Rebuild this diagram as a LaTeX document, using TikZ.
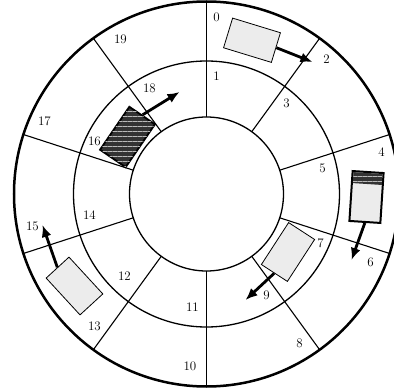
\documentclass[tikz,border=0pt]{standalone}
\usetikzlibrary{arrows.meta,patterns.meta}
\begin{document}
\begin{tikzpicture}[x=1pt,y=1pt,
  ring/.style={circle, draw, line width=1.3pt, inner sep=0pt, outer sep=0pt},
  spoke/.style={line width=1.1pt},
  lab/.style={font=\fontsize{13}{15}\selectfont, inner sep=0pt},
  veh/.style={draw, line width=0.8pt, fill=gray!15, minimum width=50pt, minimum height=31pt, inner sep=0pt},
  stripes/.style={pattern={Lines[angle=0,distance=5pt,line width=0.6pt]}, pattern color=gray!55},
  arr/.style={line width=2.8pt, -{Latex[length=12pt,width=10pt]}}]
\useasboundingbox (-206.5,-197) rectangle (187.5,194);
\clip (-206.5,-197) rectangle (187.5,194);
% rings
\node[ring, minimum size=385pt, line width=2.5pt] (outer) at (0,0) {};
\node[ring, minimum size=266pt] (middle) at (0,0) {};
\node[ring, minimum size=154pt] (inner) at (0,0) {};
% spokes
\foreach \a in {90,54,18,-18,-54,-90,-126,-162,162,126}
  \draw[spoke] (inner.\a) -- (outer.\a);
% labels
\foreach \n/\x/\y in {0/10/177, 1/10/118, 2/120/135, 3/80/91, 4/175/42, 5/116/26,
  6/164/-68, 7/114/-49, 8/93/-149, 9/60/-101, 10/-16.5/-172, 11/-14/-113,
  12/-82/-82, 13/-112/-132, 14/-117/-21, 15/-174/-32, 16/-112/53, 17/-162/73,
  18/-57/106, 19/-86/155}
  \node[lab] (l\n) at (\x,\y) {\n};
% vehicle A (top)
\node[veh, rotate=-17] (vA) at (45.5,153.75) {};
\coordinate (tA) at (106,132);
\draw[arr] (vA.east) -- (tA);
% vehicle B (right)
\begin{scope}[shift={(160,-3)}, rotate=-93.7]
  \node[veh, line width=2pt, transform shape] (vB) at (0,0) {};
  \fill[black!80, postaction={stripes}] (-24,-14.5) rectangle (-13,14.5);
\end{scope}
\coordinate (tB) at (145,-66);
\draw[arr] (vB.east) -- (tB);
% vehicle C (lower right)
\node[veh, rotate=-123] (vC) at (81.5,-58) {};
\coordinate (tC) at (39,-106);
\draw[arr] (vC.east) -- (tC);
% vehicle D (lower left)
\node[veh, rotate=132.6] (vD) at (-132,-92) {};
\coordinate (tD) at (-164,-31);
\draw[arr] (vD.east) -- (tD);
% vehicle E (dark, upper left)
\node[veh, rotate=55.7, minimum width=52pt, line width=1.8pt, fill=black!80, postaction={stripes}] (vE) at (-79,57) {};
\coordinate (tE) at (-27,102);
\draw[arr] (vE.east) -- (tE);
\end{tikzpicture}
\end{document}
